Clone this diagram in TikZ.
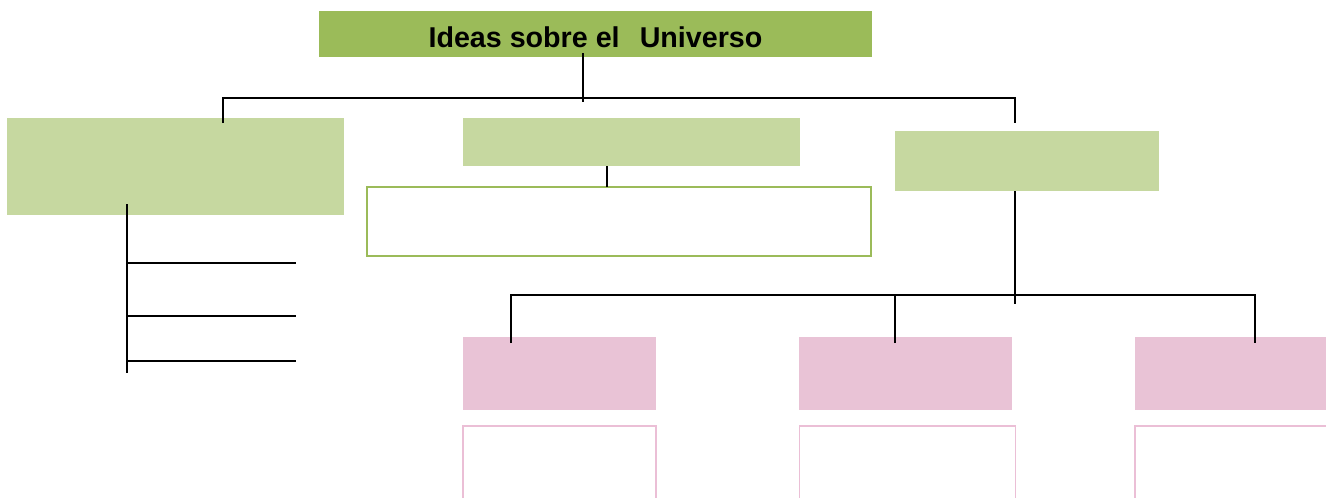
\documentclass[tikz,border=0pt]{standalone}
\usepackage{fontspec}
\setmainfont{Liberation Sans}
\usetikzlibrary{positioning}

\definecolor{titlegreen}{HTML}{9BBB59}
\definecolor{lightgreen}{HTML}{C6D8A0}
\definecolor{lightpink}{HTML}{E9C3D6}
\definecolor{pinkline}{HTML}{EBBFD6}

\tikzset{
    greenbox/.style={fill=lightgreen,inner sep=0pt,outer sep=0pt},
    pinkbox/.style={fill=lightpink,inner sep=0pt,outer sep=0pt,minimum height=54.75pt},
    pinkframe/.style={draw=pinkline,line width=1.1pt,inner sep=0pt,outer sep=0pt,minimum height=67.5pt},
    branch/.style={line width=1.5pt,black}
}

\begin{document}
\begin{tikzpicture}[x=0.75pt,y=-0.75pt]
        \useasboundingbox (0,0) rectangle (1326,497);
        % title
        \node[fill=titlegreen,inner sep=0pt,minimum width=414.75pt,minimum height=34.5pt,
              text height=20pt,text depth=0pt,
              font=\fontsize{21.5}{24}\selectfont\bfseries] (title) at (595.5,34)
              {Ideas sobre el\hspace{0.7em}Universo};
        % first level
        \node[greenbox,minimum width=252.75pt,minimum height=72.75pt] (left) at (175.5,166.5) {};
        \node[greenbox,minimum width=252.75pt,minimum height=36pt] (mid) at (631.5,142) {};
        \node[greenbox,minimum width=198pt,minimum height=45pt] (right) at (1027,161) {};
        \node[draw=titlegreen,line width=1.5pt,inner sep=0pt,minimum width=378pt,minimum height=51.75pt] (midframe) at (619,221.5) {};
        % second level
        \node[pinkbox,minimum width=144.75pt] (pinka) at (559.5,373.5) {};
        \node[pinkbox,minimum width=159.75pt] (pinkb) at (905.5,373.5) {};
        \node[pinkbox,minimum width=146.25pt] (pinkc) at (1232.5,373.5) {};
        \node[pinkframe,minimum width=144.75pt,below=12pt of pinka] (framea) {};
        \node[pinkframe,minimum width=162pt,below=12pt of pinkb,xshift=1.5pt] (frameb) {};
        \node[pinkframe,minimum width=146.25pt,below=12pt of pinkc] (framec) {};
        % connector points
        \coordinate (ttop) at (583,53);
        \coordinate (tbot) at (583,102);
        \coordinate (lhang) at (223,123);
        \coordinate (lbar) at (223,98);
        \coordinate (rbar) at (1015,98);
        \coordinate (rhang) at (1015,123);
        \coordinate (ltop) at (127,204);
        \coordinate (lbot) at (127,373);
        \coordinate (mtop) at (607,166);
        \coordinate (mbot) at (607,187);
        \coordinate (rtop) at (1015,191);
        \coordinate (rbot) at (1015,304);
        \coordinate (dropa) at (511,343);
        \coordinate (dropb) at (895,343);
        \coordinate (dropc) at (1255,343);
        % connectors
        \draw[branch] (ttop) -- (tbot);
        \draw[branch] (lhang) -- (lbar) -- (rbar) -- (rhang);
        \draw[branch] (ltop) -- (lbot);
        \foreach \y [count=\i] in {263,316,361}
            \draw[branch] (127,\y) coordinate (leg\i) -- (296,\y) coordinate (legend\i);
        \draw[branch] (mtop) -- (mbot);
        \draw[branch] (rtop) -- (rbot);
        \draw[branch] (dropa) |- (rbot |- 0,295) -| (dropc);
        \draw[branch] (dropb) -- (dropb |- 0,295);
    \end{tikzpicture}
\end{document}
